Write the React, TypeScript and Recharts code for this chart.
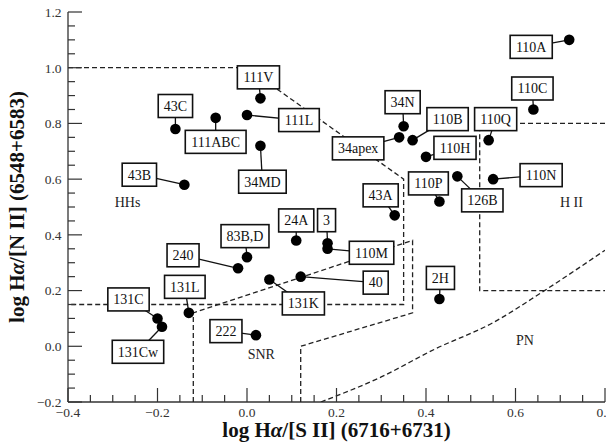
import React from 'react';
import { ScatterChart, Scatter, XAxis, YAxis } from 'recharts';

const names = [
  '110A', '110C', '111V', '111L', '111ABC', '43C', '34MD', '43B',
  '34N', '34apex', '110B', '110H', '110Q', '126B', '110P', '110N', '43A',
  '24A', '83B,D', '240', '131K', '40', '131L', '131C', '131Cw', '222',
  '3', '110M', '2H',
];
// log Ha/[S II]
const logHaSII = [
  0.72, 0.64, 0.03, 0.0, -0.07, -0.16, 0.03, -0.14,
  0.35, 0.34, 0.37, 0.4, 0.54, 0.47, 0.43, 0.55, 0.33,
  0.11, 0.0, -0.02, 0.05, 0.12, -0.13, -0.2, -0.19, 0.02,
  0.18, 0.18, 0.43,
];
// log Ha/[N II]
const logHaNII = [
  1.1, 0.85, 0.89, 0.83, 0.82, 0.78, 0.72, 0.58,
  0.79, 0.75, 0.74, 0.68, 0.74, 0.61, 0.52, 0.6, 0.47,
  0.38, 0.32, 0.28, 0.24, 0.25, 0.12, 0.1, 0.07, 0.04,
  0.37, 0.35, 0.17,
];

// where each name box sits relative to its dot (px)
const labelDx = [-38, -1, -2, 52, 0, 0, 2, -45, -1, -41, 35, 29, 7, 25, -11, 48, -14, 0, -2, -55, 34, 75, -4, -29, -24, -30, -1, 44, 1];
const labelDy = [7, -21, -21, 5, 24, -23, 36, -10, -24, 11, -21, -9, -21, 24, -18, -4, -20, -20, -21, -13, 24, 6, -26, -19, 25, -4, -23, 4, -21];

// region boundaries
const hhBoundary = [
  { x: -0.4, y: 1.0 }, { x: 0.0, y: 1.0 }, { x: 0.35, y: 0.6 },
  { x: 0.35, y: 0.15 }, { x: -0.4, y: 0.15 },
];
const snrBoundary = [
  { x: -0.12, y: -0.2 }, { x: -0.12, y: 0.12 }, { x: 0.37, y: 0.38 },
  { x: 0.37, y: 0.12 }, { x: 0.12, y: 0.0 }, { x: 0.12, y: -0.2 },
];
const hiiBoundary = [
  { x: 0.8, y: 0.8 }, { x: 0.52, y: 0.8 }, { x: 0.52, y: 0.2 }, { x: 0.8, y: 0.2 },
];
const pnBoundary = [
  { x: 0.165, y: -0.2 }, { x: 0.3, y: -0.11 }, { x: 0.42, y: -0.01 },
  { x: 0.55, y: 0.085 }, { x: 0.66, y: 0.195 }, { x: 0.8, y: 0.345 },
];

const regionNames = ['HHs', 'SNR', 'H II', 'PN'];
const regionX = [-0.267, 0.032, 0.725, 0.621];
const regionY = [0.518, -0.028, 0.519, 0.023];

const xTicks = [
  -0.4, -0.35, -0.3, -0.25, -0.2, -0.15, -0.1, -0.05, 0, 0.05, 0.1, 0.15, 0.2,
  0.25, 0.3, 0.35, 0.4, 0.45, 0.5, 0.55, 0.6, 0.65, 0.7, 0.75, 0.8,
];
const yTicks = [
  -0.2, -0.15, -0.1, -0.05, 0, 0.05, 0.1, 0.15, 0.2, 0.25, 0.3, 0.35, 0.4, 0.45,
  0.5, 0.55, 0.6, 0.65, 0.7, 0.75, 0.8, 0.85, 0.9, 0.95, 1.0, 1.05, 1.1, 1.15, 1.2,
];

const points = names.map((name, i) => ({
  name, x: logHaSII[i], y: logHaNII[i], dx: labelDx[i], dy: labelDy[i],
}));
const regions = regionNames.map((name, i) => ({ name, x: regionX[i], y: regionY[i] }));

const SERIF = 'Liberation Serif, Times New Roman, DejaVu Serif, serif';
const serif = { fontFamily: SERIF };
const AXIS = '#333';
const INK = '#111';
const dashed = { stroke: '#222', strokeWidth: 1.3, strokeDasharray: '5 3', fill: 'none' };

// Times em widths, good enough to size the boxes
const EM: Record<string, number> = {
  A: 0.722, B: 0.667, C: 0.667, D: 0.722, H: 0.722, K: 0.722, L: 0.611, M: 0.889,
  N: 0.722, P: 0.556, Q: 0.722, V: 0.722, a: 0.444, e: 0.444, p: 0.5, x: 0.5, w: 0.722, ',': 0.25,
};
const textWidth = (s: string, size: number) =>
  s.split('').reduce((w, c) => w + (EM[c] ?? 0.5), 0) * size;

const isMajor = (v: number) => Math.abs(v * 5 - Math.round(v * 5)) < 1e-6;
const fmt = (v: number) => {
  const s = Math.abs(v).toFixed(1);
  return v < -1e-9 ? '\u2212' + s : s;
};

function BottomTick({ x, y, payload }: any) {
  const major = isMajor(payload.value);
  return (
    <g>
      <line x1={x} x2={x} y1={y} y2={y - (major ? 14 : 7)} stroke={AXIS} strokeWidth={1.2} />
      {major && (
        <text x={x} y={y + 15} textAnchor="middle" fontSize={13.5} style={serif} fill="#333">
          {fmt(payload.value)}
        </text>
      )}
    </g>
  );
}

function TopTick({ x, y, payload }: any) {
  const major = isMajor(payload.value);
  return <line x1={x} x2={x} y1={y} y2={y + (major ? 14 : 7)} stroke={AXIS} strokeWidth={1.2} />;
}

function LeftTick({ x, y, payload }: any) {
  const major = isMajor(payload.value);
  return (
    <g>
      <line x1={x} x2={x + (major ? 14 : 7)} y1={y} y2={y} stroke={AXIS} strokeWidth={1.2} />
      {major && (
        <text x={x - 6.5} y={y + 4.8} textAnchor="end" fontSize={13.5} style={serif} fill="#333">
          {fmt(payload.value)}
        </text>
      )}
    </g>
  );
}

function RightTick({ x, y, payload }: any) {
  const major = isMajor(payload.value);
  return <line x1={x} x2={x - (major ? 14 : 7)} y1={y} y2={y} stroke={AXIS} strokeWidth={1.2} />;
}

function XTitle({ viewBox }: any) {
  const { x, y, width } = viewBox;
  return (
    <text x={x + width / 2} y={y + 35} textAnchor="middle" fontSize={21} fontWeight="bold" style={serif} fill={INK}>
      log H<tspan fontStyle="italic">α</tspan>/[S II] (6716+6731)
    </text>
  );
}

function YTitle({ viewBox }: any) {
  const { y, height } = viewBox;
  const cx = 23.5;
  const cy = y + height / 2;
  return (
    <text x={cx} y={cy} transform={`rotate(-90 ${cx} ${cy})`} textAnchor="middle" fontSize={21} fontWeight="bold" style={serif} fill={INK}>
      log H<tspan fontStyle="italic">α</tspan>/[N II] (6548+6583)
    </text>
  );
}

const Nothing = () => <g />;

function Leader({ cx, cy, payload }: any) {
  return <line x1={cx} y1={cy} x2={cx + payload.dx} y2={cy + payload.dy} stroke="#111" strokeWidth={1.3} />;
}

function NameBox({ cx, cy, payload }: any) {
  const bx = cx + payload.dx;
  const by = cy + payload.dy;
  const w = textWidth(payload.name, 14) + 11;
  const h = 23;
  return (
    <g>
      <rect x={bx - w / 2} y={by - h / 2} width={w} height={h} fill="#fff" stroke="#111" strokeWidth={1.6} />
      <text x={bx} y={by + 4.8} textAnchor="middle" fontSize={14} style={serif} fill={INK}>
        {payload.name}
      </text>
    </g>
  );
}

function Dot({ cx, cy }: any) {
  return <circle cx={cx} cy={cy} r={5.3} fill="#000" />;
}

function RegionText({ cx, cy, payload }: any) {
  return (
    <text x={cx} y={cy + 5} textAnchor="middle" fontSize={14} style={serif} fill="#222">
      {payload.name}
    </text>
  );
}

export default function App() {
  return (
    <div style={{ marginLeft: -8, marginTop: -8 }}>
      <ScatterChart width={614} height={447} margin={{ top: 12, right: 9, bottom: 0, left: 8 }} style={serif}>
        <XAxis
          type="number" dataKey="x" domain={[-0.4, 0.8]} ticks={xTicks} interval={0}
          allowDataOverflow height={45} tickSize={0} tickMargin={0} tickLine={false}
          axisLine={{ stroke: AXIS, strokeWidth: 1.3 }} tick={BottomTick} label={{ content: XTitle }}
        />
        <XAxis
          xAxisId="top" orientation="top" type="number" domain={[-0.4, 0.8]} ticks={xTicks} interval={0}
          allowDataOverflow height={0} tickSize={0} tickMargin={0} tickLine={false}
          axisLine={{ stroke: AXIS, strokeWidth: 1.3 }} tick={TopTick}
        />
        <YAxis
          type="number" dataKey="y" domain={[-0.2, 1.2]} ticks={yTicks} interval={0}
          allowDataOverflow width={60} tickSize={0} tickMargin={0} tickLine={false}
          axisLine={{ stroke: AXIS, strokeWidth: 1.3 }} tick={LeftTick} label={{ content: YTitle }}
        />
        <YAxis
          yAxisId="right" orientation="right" type="number" domain={[-0.2, 1.2]} ticks={yTicks} interval={0}
          allowDataOverflow width={0} tickSize={0} tickMargin={0} tickLine={false}
          axisLine={{ stroke: AXIS, strokeWidth: 1.3 }} tick={RightTick}
        />

        <Scatter data={hhBoundary} line={dashed} shape={Nothing} isAnimationActive={false} />
        <Scatter data={snrBoundary} line={dashed} shape={Nothing} isAnimationActive={false} />
        <Scatter data={hiiBoundary} line={dashed} shape={Nothing} isAnimationActive={false} />
        <Scatter data={pnBoundary} line={dashed} lineJointType="monotoneX" shape={Nothing} isAnimationActive={false} />

        <Scatter data={regions} shape={RegionText} isAnimationActive={false} />
        <Scatter data={points} shape={Leader} isAnimationActive={false} />
        <Scatter data={points} shape={NameBox} isAnimationActive={false} />
        <Scatter data={points} shape={Dot} isAnimationActive={false} />
      </ScatterChart>
    </div>
  );
}
